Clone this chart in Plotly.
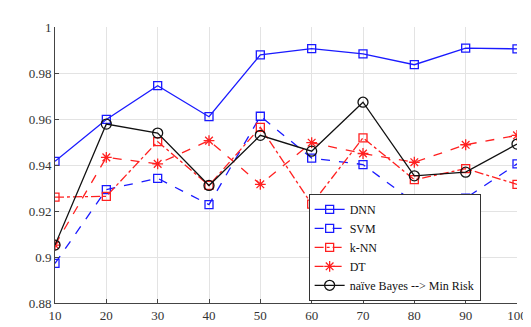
import plotly.graph_objects as go

x_vals = [10, 20, 30, 40, 50, 60, 70, 80, 90, 100]
dnn = [0.9416, 0.9598, 0.9745, 0.9610, 0.9879, 0.9906, 0.9883, 0.9836, 0.9908, 0.9905]
svm = [0.8972, 0.9293, 0.9342, 0.9228, 0.9612, 0.9430, 0.9402, 0.9237, 0.9256, 0.9405]
knn = [0.9260, 0.9264, 0.9502, 0.9311, 0.9564, 0.9230, 0.9518, 0.9336, 0.9384, 0.9316]
dt = [0.9052, 0.9433, 0.9405, 0.9506, 0.9316, 0.9497, 0.9450, 0.9412, 0.9488, 0.9529]
nb = [0.9052, 0.9578, 0.9539, 0.9311, 0.9529, 0.9460, 0.9673, 0.9353, 0.9369, 0.9491]

x_ticks = [10, 20, 30, 40, 50, 60, 70, 80, 90, 100]
y_ticks = [0.88, 0.9, 0.92, 0.94, 0.96, 0.98, 1]
y_tick_text = ["0.88", "0.9", "0.92", "0.94", "0.96", "0.98", "1"]

series = [
    ("DNN", dnn, "#1a1aff", "solid", "square-open", 8),
    ("SVM", svm, "#1a1aff", "dash", "square-open", 8),
    ("k-NN", knn, "#ff2020", "dashdot", "square-open", 8),
    ("DT", dt, "#ff2020", "dash", "asterisk-open", 9),
    ("naïve Bayes --> Min Risk", nb, "#111111", "solid", "circle-open", 10),
]

fig = go.Figure()
for name, vals, color, dash, sym, size in series:
    fig.add_trace(go.Scatter(
        x=x_vals, y=vals, name=name, mode="lines+markers",
        line=dict(color=color, width=1.3, dash=dash),
        marker=dict(symbol=sym, size=size, color=color, line=dict(color=color, width=1.3)),
    ))

font_serif = "Liberation Serif"
fig.update_layout(
    width=531, height=327,
    margin=dict(l=47, r=12, t=13, b=24),
    paper_bgcolor="white", plot_bgcolor="white",
    font=dict(family=font_serif, size=13, color="#333333"),
    showlegend=True,
    legend=dict(
        x=0.549, y=0.008, xanchor="left", yanchor="bottom",
        bgcolor="white", bordercolor="#333333", borderwidth=1,
        font=dict(family=font_serif, size=12, color="#111111"),
        tracegroupgap=0,
    ),
    xaxis=dict(
        range=[10, 100], tickvals=x_ticks, showgrid=True, gridcolor="#e3e3e3", gridwidth=1,
        showline=True, linecolor="#444444", linewidth=1, mirror=False,
        ticks="inside", ticklen=4, tickcolor="#444444", zeroline=False,
        tickfont=dict(family=font_serif, size=13, color="#333333"),
    ),
    yaxis=dict(
        range=[0.88, 1], tickvals=y_ticks, ticktext=y_tick_text, showgrid=True, gridcolor="#e3e3e3",
        gridwidth=1, showline=True, linecolor="#444444", linewidth=1, mirror=False,
        ticks="inside", ticklen=4, tickcolor="#444444", zeroline=False,
        tickfont=dict(family=font_serif, size=13, color="#333333"),
    ),
)
fig.write_html("out.html")
